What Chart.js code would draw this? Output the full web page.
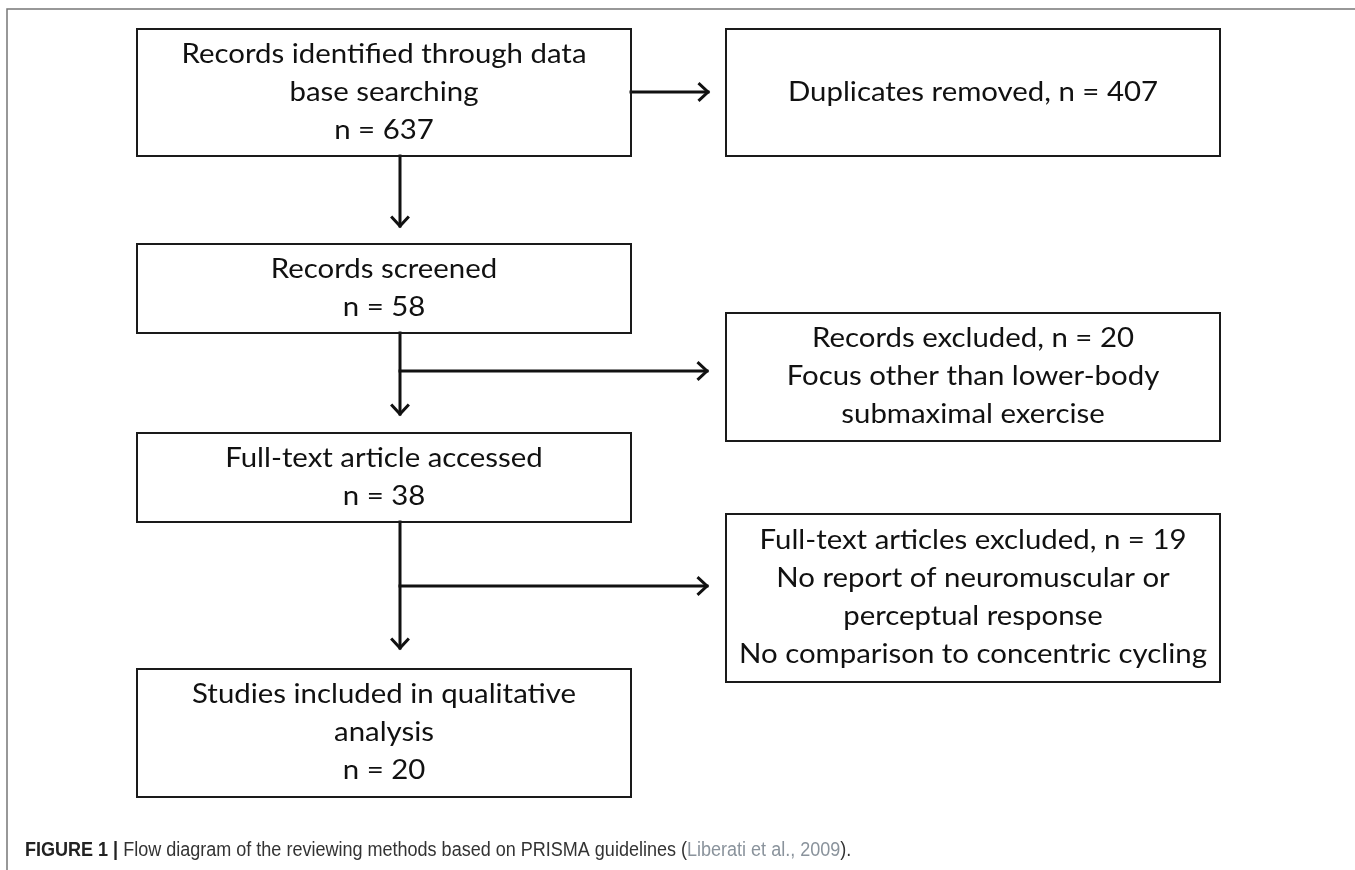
<!DOCTYPE html>
<html>
<head>
<meta charset="utf-8">
<script src="https://cdn.jsdelivr.net/npm/chart.js@4.4.1/dist/chart.umd.min.js"></script>
<style>
  html, body { margin: 0; padding: 0; background: #ffffff; }
</style>
</head>
<body>
<canvas id="flow" width="1355" height="870"></canvas>
<script>
// Stage titles, split into lines as in the figure
const stageTitles = [
    ["Records identified through data", "base searching"],
    ["Duplicates removed,"],
    ["Records screened"],
    ["Records excluded,"],
    ["Full-text article accessed"],
    ["Full-text articles excluded,"],
    ["Studies included in qualitative", "analysis"]
];
// n for each stage
const stageCounts = [637, 407, 58, 20, 38, 19, 20];
// side boxes put n on the title line
const countOnTitleLine = [false, true, false, true, false, true, false];
// reasons listed under the exclusion boxes
const exclusionReasons = [
    [],
    [],
    [],
    ["Focus other than lower-body", "submaximal exercise"],
    [],
    ["No report of neuromuscular or", "perceptual response", "No comparison to concentric cycling"],
    []
];
const captionLabel = "FIGURE 1 |";
const captionText = " Flow diagram of the reviewing methods based on PRISMA guidelines (";
const captionRef = "Liberati et al., 2009";
const captionEnd = ").";

// layout of the diagram, in page units (x right, y down)
const boxLayout = [
    { x0: 137, x1: 631, y0: 29, y1: 156 },
    { x0: 726, x1: 1220, y0: 29, y1: 156 },
    { x0: 137, x1: 631, y0: 244, y1: 333 },
    { x0: 726, x1: 1220, y0: 313, y1: 441 },
    { x0: 137, x1: 631, y0: 433, y1: 522 },
    { x0: 726, x1: 1220, y0: 514, y1: 682 },
    { x0: 137, x1: 631, y0: 669, y1: 797 }
];
const arrowLayout = [
    [[631, 92], [708, 92]],
    [[400, 156], [400, 226]],
    [[400, 333], [400, 414]],
    [[400, 371], [707, 371]],
    [[400, 522], [400, 648]],
    [[400, 586], [707, 586]]
];
const frameLine = [[7, 870], [7, 9], [1355, 9]];

const lineSpacing = 38;

// text lines for each box
function boxLines(i) {
    const title = stageTitles[i].slice();
    const nText = "n = " + stageCounts[i];
    if (countOnTitleLine[i]) {
        title[0] = title[0] + " " + nText;
        return title.concat(exclusionReasons[i]);
    }
    return title.concat([nText]);
}

const pts = (arr) => arr.map(p => ({ x: p[0], y: p[1] }));

const datasets = [];
boxLayout.forEach((b) => {
    datasets.push({
        data: pts([[b.x0, b.y0], [b.x1, b.y0], [b.x1, b.y1], [b.x0, b.y1], [b.x0, b.y0]]),
        borderColor: "#1a1a1a",
        borderWidth: 2
    });
});
arrowLayout.forEach((a) => {
    datasets.push({ data: pts(a), borderColor: "#111111", borderWidth: 3 });
});
datasets.push({ data: pts(frameLine), borderColor: "#777777", borderWidth: 1.5 });
datasets.forEach((d) => {
    d.showLine = true;
    d.pointRadius = 0;
    d.pointHoverRadius = 0;
    d.fill = false;
    d.tension = 0;
    d.borderCapStyle = "square";
    d.borderJoinStyle = "miter";
});

// arrowheads and all the text
const flowPlugin = {
    id: "flowText",
    afterDatasetsDraw(chart) {
        const ctx = chart.ctx;
        const xs = chart.scales.x, ys = chart.scales.y;
        const px = (v) => xs.getPixelForValue(v);
        const py = (v) => ys.getPixelForValue(v);

        // open chevron heads
        ctx.save();
        ctx.strokeStyle = "#111111";
        ctx.lineWidth = 3;
        ctx.lineJoin = "miter";
        ctx.lineCap = "butt";
        arrowLayout.forEach((a) => {
            const x1 = px(a[0][0]), y1 = py(a[0][1]);
            const x2 = px(a[1][0]), y2 = py(a[1][1]);
            const ang = Math.atan2(y2 - y1, x2 - x1);
            const len = 13, spread = Math.PI / 4.2;
            ctx.beginPath();
            ctx.moveTo(x2 - len * Math.cos(ang - spread), y2 - len * Math.sin(ang - spread));
            ctx.lineTo(x2, y2);
            ctx.lineTo(x2 - len * Math.cos(ang + spread), y2 - len * Math.sin(ang + spread));
            ctx.stroke();
        });
        ctx.restore();

        // box text
        ctx.save();
        ctx.fillStyle = "#111111";
        ctx.font = "26px Lato";
        ctx.textAlign = "center";
        ctx.textBaseline = "middle";
        const sx = 405 / ctx.measureText(stageTitles[0][0]).width;
        boxLayout.forEach((b, i) => {
            const lines = boxLines(i);
            const cx = px((b.x0 + b.x1) / 2);
            const cy = py((b.y0 + b.y1) / 2);
            lines.forEach((t, k) => {
                const y = cy + (k - (lines.length - 1) / 2) * lineSpacing;
                ctx.save();
                ctx.translate(cx, y);
                ctx.scale(sx, 1);
                ctx.fillText(t, 0, 0);
                ctx.restore();
            });
        });
        ctx.restore();

        // caption
        ctx.save();
        ctx.textBaseline = "middle";
        ctx.textAlign = "left";
        const boldFont = "bold 20px 'Liberation Sans'";
        const regFont = "20px 'Liberation Sans'";
        ctx.font = boldFont;
        const wLabel = ctx.measureText(captionLabel).width;
        ctx.font = regFont;
        const wText = ctx.measureText(captionText).width;
        const wRef = ctx.measureText(captionRef).width;
        const csx = (687 - 25) / (wLabel + wText);
        ctx.translate(px(25), py(850));
        ctx.scale(csx, 1);
        let x = 0;
        ctx.font = boldFont;
        ctx.fillStyle = "#222222";
        ctx.fillText(captionLabel, x, 0);
        x += wLabel;
        ctx.font = regFont;
        ctx.fillStyle = "#333333";
        ctx.fillText(captionText, x, 0);
        x += wText;
        ctx.fillStyle = "#8a939c";
        ctx.fillText(captionRef, x, 0);
        x += wRef;
        ctx.fillStyle = "#333333";
        ctx.fillText(captionEnd, x, 0);
        ctx.restore();
    }
};

new Chart(document.getElementById("flow"), {
    type: "scatter",
    data: { datasets: datasets },
    options: {
        responsive: false,
        animation: false,
        layout: { padding: 0 },
        scales: {
            x: { type: "linear", min: 0, max: 1355, display: false },
            y: { type: "linear", min: 0, max: 870, reverse: true, display: false }
        },
        plugins: {
            legend: { display: false },
            tooltip: { enabled: false }
        },
        events: []
    },
    plugins: [flowPlugin]
});
</script>
</body>
</html>
